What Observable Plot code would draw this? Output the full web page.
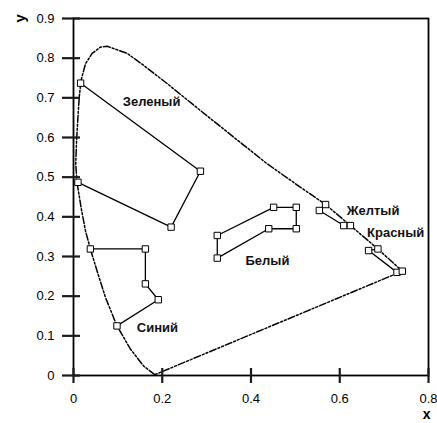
<!DOCTYPE html>
<html><head><meta charset="utf-8">
<script src="https://cdn.jsdelivr.net/npm/d3@7"></script>
<script src="https://cdn.jsdelivr.net/npm/@observablehq/plot@0.6"></script>
<style>body{margin:0;background:#fff}</style>
</head><body><div id="chart"></div>
<script>
const xTicks = [0, 0.2, 0.4, 0.6, 0.8];
const yTicks = [0, 0.1, 0.2, 0.3, 0.4, 0.5, 0.6, 0.7, 0.8, 0.9];

// spectral locus, from blue end, over the top, to red end
const locusX = [0.183, 0.158, 0.128, 0.098, 0.072, 0.053, 0.038, 0.027, 0.017, 0.008, 0.005, 0.007, 0.010, 0.013, 0.017, 0.027, 0.042, 0.061, 0.076, 0.091, 0.121, 0.158, 0.211, 0.286, 0.361, 0.436, 0.511, 0.568, 0.624, 0.686, 0.741];
const locusY = [0.002, 0.024, 0.067, 0.125, 0.197, 0.264, 0.319, 0.365, 0.424, 0.487, 0.534, 0.593, 0.651, 0.702, 0.744, 0.786, 0.812, 0.828, 0.830, 0.824, 0.812, 0.782, 0.736, 0.668, 0.601, 0.534, 0.475, 0.431, 0.378, 0.319, 0.263];

const greenX = [0.016, 0.286, 0.220, 0.010];
const greenY = [0.737, 0.515, 0.374, 0.487];
const blueX = [0.038, 0.162, 0.162, 0.191, 0.098];
const blueY = [0.319, 0.319, 0.231, 0.191, 0.125];
const whiteX = [0.324, 0.451, 0.502, 0.502, 0.440, 0.324];
const whiteY = [0.353, 0.424, 0.424, 0.370, 0.370, 0.296];
const yellowX = [0.568, 0.554, 0.609, 0.624];
const yellowY = [0.431, 0.416, 0.378, 0.378];
const redX = [0.686, 0.665, 0.729, 0.741];
const redY = [0.319, 0.315, 0.260, 0.263];

const labelNames = ["Зеленый", "Синий", "Белый", "Желтый", "Красный"];
const labelX = [0.176, 0.189, 0.437, 0.675, 0.726];
const labelY = [0.689, 0.121, 0.290, 0.416, 0.359];

const pts = (xs, ys) => xs.map((x, i) => ({x, y: ys[i]}));
const locus = pts(locusX, locusY);
locus.push(locus[0]);
const green = pts(greenX, greenY);
const blue = pts(blueX, blueY);
const white = pts(whiteX, whiteY);
const whiteClosed = [...white, white[0]];
const yellow = pts(yellowX, yellowY);
const red = pts(redX, redY);
const labels = labelNames.map((t, i) => ({t, x: labelX[i], y: labelY[i]}));

const lineOpts = {x: "x", y: "y", stroke: "black", strokeWidth: 1.3};
const dotOpts = {x: "x", y: "y", symbol: "square", r: 3.6, fill: "white", stroke: "black", strokeWidth: 1};

const chart = Plot.plot({
  width: 437, height: 423,
  marginLeft: 73, marginRight: 9, marginTop: 18, marginBottom: 48,
  style: {fontFamily: "'Liberation Sans', Arial, sans-serif", fontSize: "13px", background: "white", color: "black"},
  x: {domain: [0, 0.8], label: null},
  y: {domain: [0, 0.9], label: null},
  marks: [
    Plot.line(locus, {x: "x", y: "y", stroke: "black", strokeWidth: 1.5, strokeDasharray: "7,2,2,2,2,2"}),
    Plot.line(green, lineOpts),
    Plot.line(blue, lineOpts),
    Plot.line(whiteClosed, lineOpts),
    Plot.line(yellow, lineOpts),
    Plot.line(red, lineOpts),
    Plot.dot(green, dotOpts),
    Plot.dot(blue, dotOpts),
    Plot.dot(white, dotOpts),
    Plot.dot(yellow, dotOpts),
    Plot.dot(red, dotOpts),
    Plot.text(labels, {x: "x", y: "y", text: "t", fontWeight: "bold", fontSize: 13, fill: "#111"}),
    Plot.frame({stroke: "black", strokeWidth: 1.8}),
    Plot.tickX(xTicks, {x: d => d, stroke: "#1a1a1a", strokeWidth: 2.2, insetTop: 350, insetBottom: -8}),
    Plot.tickY(yTicks, {y: d => d, stroke: "#1a1a1a", strokeWidth: 2.2, insetLeft: -11, insetRight: 348}),
    Plot.axisX(xTicks, {label: null, tickSize: 0, tickPadding: 18, fontSize: 13, tickFormat: d => String(d)}),
    Plot.axisY(yTicks, {label: null, tickSize: 0, tickPadding: 19, fontSize: 13, tickFormat: d => String(d)}),
    Plot.text(["y"], {frameAnchor: "top-left", dx: -59, dy: 4, rotate: -90, fontWeight: "bold", fontSize: 15}),
    Plot.text(["x"], {frameAnchor: "bottom-right", dx: 2, dy: 43, fontWeight: "bold", fontSize: 14})
  ]
});
document.getElementById("chart").appendChild(chart);
</script>
</body></html>
